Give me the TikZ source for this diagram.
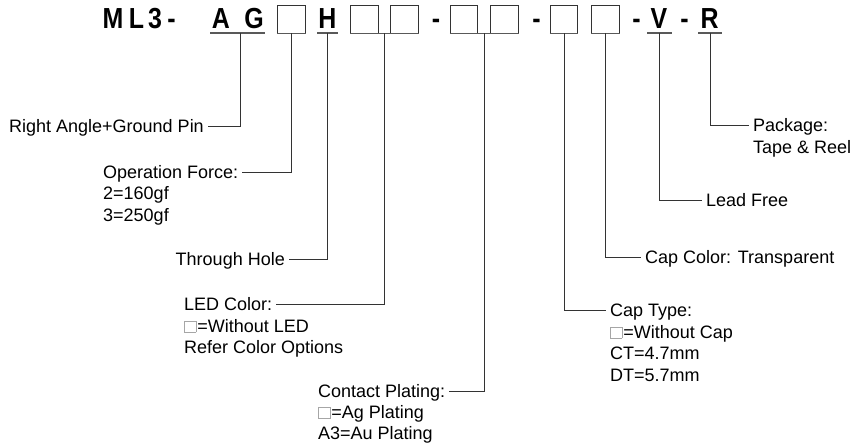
\documentclass[tikz,border=0pt]{standalone}
\usepackage{fontspec}
\setmainfont{Liberation Sans}
\usetikzlibrary{positioning}

% 文本中的空白方框
\newcommand{\blankbox}{{\color{black!35}\setlength{\fboxsep}{0pt}\setlength{\fboxrule}{0.6pt}\fbox{\rule{0pt}{11pt}\hspace{11pt}}}\hspace{1pt}}
% 型号字符（略窄）
\newcommand{\codechar}[1]{\scalebox{0.86}[1]{#1}}

\begin{document}
\begin{tikzpicture}[x=1pt, y=-1pt,
  code/.style={font=\fontsize{29}{29}\selectfont\bfseries, inner sep=0pt, anchor=base},
  slot/.style={draw=black!80, line width=0.8pt, minimum width=27.5pt, minimum height=28pt, inner sep=0pt},
  uline/.style={draw=black!65, line width=1.6pt},
  conn/.style={draw=black!80, line width=0.8pt},
  lbl/.style={font=\fontsize{18}{21}\selectfont, inner xsep=4pt, inner ysep=0pt, text height=12.9pt, text depth=0pt}]
  \useasboundingbox (0,0) rectangle (855,446);

  % 型号字符
  \node[code] (m)  at (113,28.5)   {\codechar{M}};
  \node[code] (l)  at (136.5,28.5) {\codechar{L}};
  \node[code] (n3) at (155,28.5)   {\codechar{3}};
  \node[code] (d1) at (171.5,28.5) {\codechar{-}};
  \node[code] (a)  at (221,28.5)   {\codechar{A}};
  \node[code] (g)  at (254,28.5)   {\codechar{G}};
  \node[code] (h)  at (327.5,28.5) {\codechar{H}};
  \node[code] (d2) at (436,28.5)   {\codechar{-}};
  \node[code] (d3) at (536.5,28.5) {\codechar{-}};
  \node[code] (d4) at (636.5,28.5) {\codechar{-}};
  \node[code] (v)  at (659,28.5)   {\codechar{V}};
  \node[code] (d5) at (684.5,28.5) {\codechar{-}};
  \node[code] (r)  at (709.5,28.5) {\codechar{R}};

  % 空白方框
  \node[slot] (b1) at (291.5,19) {};
  \node[slot] (b2) at (364.5,19) {};
  \node[slot] (b3) at (404.5,19) {};
  \node[slot] (b4) at (464,19)   {};
  \node[slot] (b5) at (504.5,19) {};
  \node[slot] (b6) at (564,19)   {};
  \node[slot] (b7) at (605.5,19) {};

  % 下划线与方框底边
  \draw[uline] (210,33) -- (265,33);
  \draw[uline] (317,33) -- (338,33);
  \draw[uline] (647,33) -- (672,33);
  \draw[uline] (698,33) -- (722,33);
  \draw[uline] (b1.south west) -- (b1.south east);
  \draw[uline] (b2.south west) -- (b3.south east);
  \draw[uline] (b4.south west) -- (b5.south east);
  \draw[uline] (b6.south west) -- (b6.south east);
  \draw[uline] (b7.south west) -- (b7.south east);

  % 引线起点
  \coordinate (agc) at (240,33);
  \coordinate (hc)  at (327.5,33);
  \coordinate (p23) at (384.5,33);
  \coordinate (p45) at (484,33);
  \coordinate (vc)  at (659.5,33);
  \coordinate (rc)  at (710,33);

  % 左侧说明
  \node[lbl, anchor=east] (rap) at (208,126) {Right Angle+Ground Pin};
  \node[lbl, anchor=west] (opf) at (99,172) {Operation Force:};
  \node[lbl, anchor=base west] (opf2) at ([yshift=-21.5pt]opf.base west) {2=160gf};
  \node[lbl, anchor=base west] (opf3) at ([yshift=-21.5pt]opf2.base west) {3=250gf};
  \node[lbl, anchor=east] (thh) at (289,259) {Through Hole};
  \node[lbl, anchor=west] (led) at (180,304) {LED Color:};
  \node[lbl, anchor=base west] (led2) at ([yshift=-21.7pt]led.base west) {\blankbox=Without LED};
  \node[lbl, anchor=base west] (led3) at ([yshift=-21.7pt]led2.base west) {Refer Color Options};
  \node[lbl, anchor=west] (cpl) at (314,391) {Contact Plating:};
  \node[lbl, anchor=base west] (cpl2) at ([yshift=-21pt]cpl.base west) {\blankbox=Ag Plating};
  \node[lbl, anchor=base west] (cpl3) at ([yshift=-21pt]cpl2.base west) {A3=Au Plating};

  % 右侧说明
  \node[lbl, anchor=west] (pkg) at (749,125) {Package:};
  \node[lbl, anchor=base west] (pkg2) at ([yshift=-22pt]pkg.base west) {Tape \& Reel};
  \node[lbl, anchor=west] (lfr) at (702,200) {Lead Free};
  \node[lbl, anchor=west] (ccl) at (641,257) {Cap Color: Transparent};
  \node[lbl, anchor=west] (ctp) at (606,310) {Cap Type:};
  \node[lbl, anchor=base west] (ctp2) at ([yshift=-21.7pt]ctp.base west) {\blankbox=Without Cap};
  \node[lbl, anchor=base west] (ctp3) at ([yshift=-21.7pt]ctp2.base west) {CT=4.7mm};
  \node[lbl, anchor=base west] (ctp4) at ([yshift=-21.7pt]ctp3.base west) {DT=5.7mm};

  % 引线
  \draw[conn] (rap.east) -| (agc);
  \draw[conn] (opf.east) -| (b1.south);
  \draw[conn] (thh.east) -| (hc);
  \draw[conn] (led.east) -| (p23);
  \draw[conn] (cpl.east) -| (p45);
  \draw[conn] (b6.south) |- (ctp.west);
  \draw[conn] (b7.south) |- (ccl.west);
  \draw[conn] (vc) |- (lfr.west);
  \draw[conn] (rc) |- (pkg.west);
\end{tikzpicture}
\end{document}
